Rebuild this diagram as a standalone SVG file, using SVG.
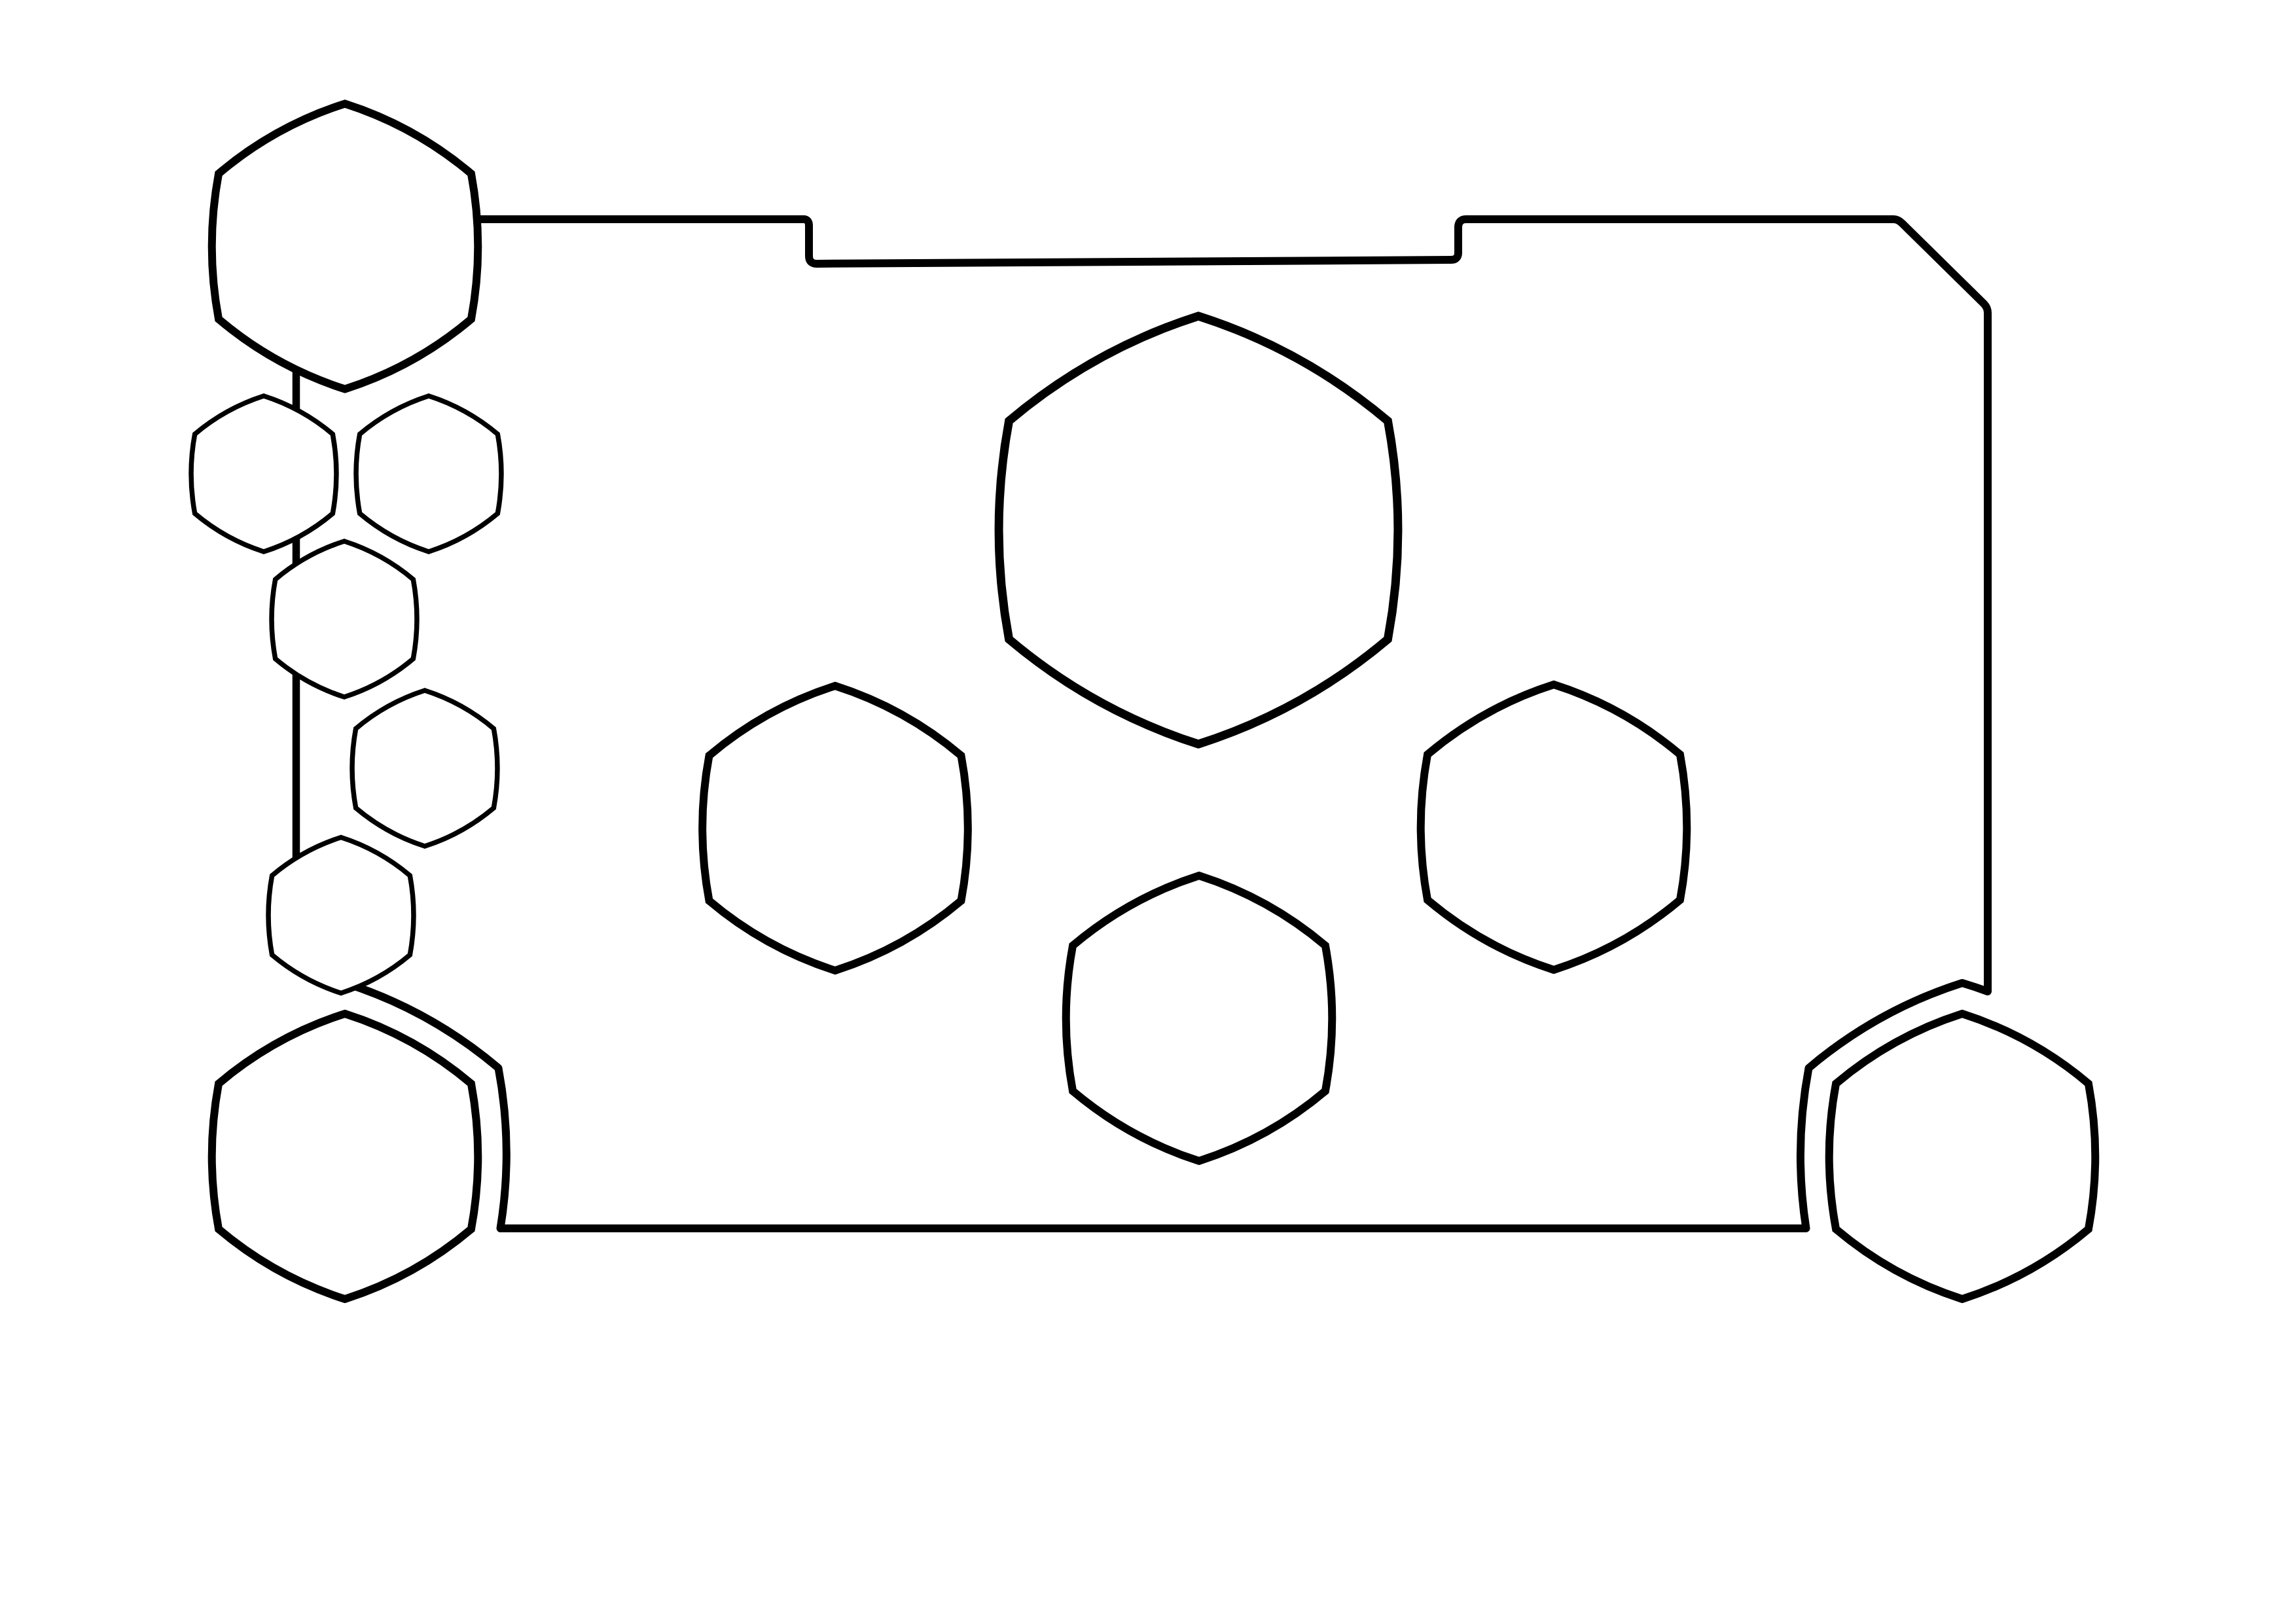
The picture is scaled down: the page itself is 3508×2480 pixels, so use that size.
<svg xmlns="http://www.w3.org/2000/svg" width="3508" height="2480" viewBox="0 0 3508 2480">
<style>
.hex{fill:#fff;stroke:#000;}
.big{stroke-width:12;}
.huge{stroke-width:13;}
.small{stroke-width:7.5;}
.frame{fill:none;stroke:#000;stroke-width:12;stroke-linejoin:round;stroke-linecap:round;}
.link{fill:none;stroke:#000;stroke-width:11.5;}
</style>
<defs>
<path id="hexshape" vector-effect="non-scaling-stroke" stroke-linejoin="miter" d="M0,-100 Q49.1,-84.3 88.5,-51 Q98,0 88.5,51 Q49.1,84.3 0,100 Q-49.1,84.3 -88.5,51 Q-98,0 -88.5,-51 Q-49.1,-84.3 0,-100Z"/>
</defs>
<rect width="3508" height="2480" fill="#fff"/>
<g id="connectors">
<path class="frame" d="M725,335 H1228 Q1236,335 1236,345 V391 Q1236,403 1248,403 L2217,397 Q2228,397 2228,386 V346 Q2229,335 2240,335 H2893 Q2900,335 2906,341 L3031,464 Q3037,470 3037,478 V1515 Q3017.8,1508 2998,1502 Q2868,1543.5 2763.5,1632 Q2740.5,1754.5 2759.5,1877 H764.5 Q784.5,1754.5 761.5,1632 Q657,1543.5 527,1502"/>
<line class="link" x1="452.5" y1="560" x2="452.5" y2="1330"/>
</g>
<g id="hex-top-left"><use href="#hexshape" class="hex big" transform="translate(527 376.5) scale(2.18)"/></g>
<g id="hex-row1-left"><use href="#hexshape" class="hex small" transform="translate(403 724) scale(1.19)"/></g>
<g id="hex-row1-right"><use href="#hexshape" class="hex small" transform="translate(655 724) scale(1.19)"/></g>
<g id="hex-row2"><use href="#hexshape" class="hex small" transform="translate(526 946) scale(1.19)"/></g>
<g id="hex-row3"><use href="#hexshape" class="hex small" transform="translate(649 1174) scale(1.19)"/></g>
<g id="hex-row4"><use href="#hexshape" class="hex small" transform="translate(521 1398.5) scale(1.19)"/></g>
<g id="hex-bottom-left"><use href="#hexshape" class="hex big" transform="translate(527 1767) scale(2.18)"/></g>
<g id="hex-center"><use href="#hexshape" class="hex huge" transform="translate(1831 810) scale(3.27)"/></g>
<g id="hex-mid-left"><use href="#hexshape" class="hex big" transform="translate(1276 1265.5) scale(2.175)"/></g>
<g id="hex-mid-right"><use href="#hexshape" class="hex big" transform="translate(2374 1264) scale(2.18)"/></g>
<g id="hex-lower-center"><use href="#hexshape" class="hex big" transform="translate(1832 1556) scale(2.18)"/></g>
<g id="hex-bottom-right"><use href="#hexshape" class="hex big" transform="translate(2998 1767) scale(2.18)"/></g>
</svg>
